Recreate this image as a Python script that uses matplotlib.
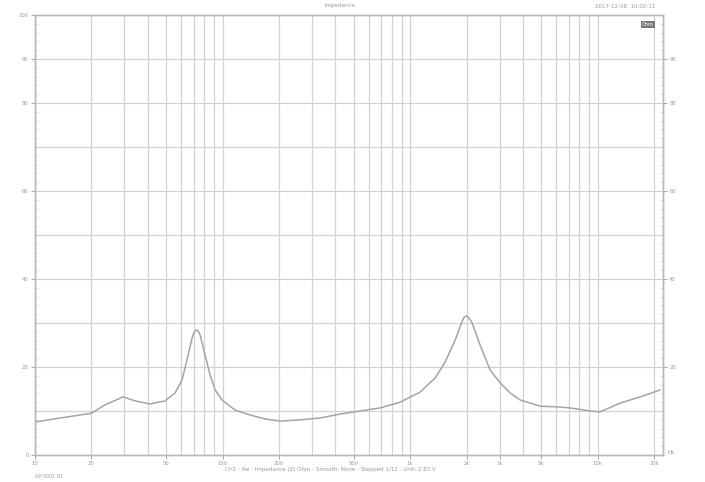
import numpy as np
import matplotlib
matplotlib.use("Agg")
import matplotlib.pyplot as plt
from matplotlib.ticker import FixedLocator, NullFormatter, MultipleLocator

# Data
freq_hz = [10.0, 13.6, 20, 23.6, 29.5, 34.1, 41.0, 49.4, 55.8, 60.8, 65.5, 68.8,
           70.5, 72.2, 74.0, 75.9, 80.7, 85.8, 91.2, 99.4, 116.6, 140, 168.5, 202.6, 259, 331,
           423, 541, 692, 884, 1131, 1359, 1537, 1738, 1894, 1940, 1990, 2040, 2142, 2362, 2671,
           3020, 3414, 3861, 4935, 6310, 7134, 9120, 10310, 13183, 16853, 21544]
impedance = [7.5, 8.4, 9.5, 11.4, 13.2, 12.3, 11.6, 12.3, 14.1, 17.0, 22.7, 26.6,
             27.9, 28.4, 28.2, 27.3, 22.7, 18.2, 14.8, 12.5, 10.2, 9.1, 8.2, 7.7, 8.0, 8.4,
             9.3, 10.0, 10.7, 12.0, 14.3, 17.5, 21.1, 26.1, 30.4, 31.3, 31.6, 31.4, 30.0, 25.0, 19.3,
             16.4, 14.1, 12.5, 11.1, 10.9, 10.7, 10.0, 9.8, 11.8, 13.2, 14.8]

x_tick_vals = [10, 20, 50, 100, 200, 500, 1000, 2000, 3000, 5000, 10000, 20000]
x_tick_labels = ["10", "20", "50", "100", "200", "500", "1k", "2k", "3k", "5k", "10k", "20k"]
y_tick_vals = [0, 20, 40, 60, 80, 90, 100]
y_tick_labels = ["0", "20", "40", "60", "80", "90", "100"]
y2_tick_vals = [20, 40, 60, 80, 90]
y2_tick_labels = ["20", "40", "60", "80", "90"]

W, H = 705, 482
fig = plt.figure(figsize=(W / 100, H / 100), dpi=100)
ax = fig.add_axes([35 / W, 1 - 455 / H, (663 - 35) / W, (455 - 15) / H])

grid_c = "#d2d2d2"
txt_c = "#9a9a9a"

ax.set_xscale("log")
ax.set_xlim(10, 22300)
ax.set_ylim(0, 100)

vg = [m * 10 ** d for d in range(1, 5) for m in range(1, 10) if m * 10 ** d <= 20000]
for v in vg:
    ax.axvline(v, color=grid_c, lw=0.9, zorder=1)
for h in range(10, 100, 10):
    ax.axhline(h, color=grid_c, lw=0.9, zorder=1)

ax.plot(freq_hz, impedance, color="#a4a4a4", lw=1.1, zorder=3)

ax.xaxis.set_major_locator(FixedLocator(x_tick_vals))
ax.set_xticklabels(x_tick_labels)
ax.xaxis.set_minor_formatter(NullFormatter())
ax.xaxis.set_minor_locator(FixedLocator([]))
ax.set_yticks(y_tick_vals)
ax.set_yticklabels(y_tick_labels)
ax.yaxis.set_minor_locator(MultipleLocator(2))
ax.tick_params(axis="both", which="major", labelsize=3.8, colors=txt_c, length=3,
               width=0.6, direction="out")
ax.tick_params(axis="y", which="minor", length=2, width=0.5, colors="#c8c8c8",
               direction="in", left=True, right=False)
ax.tick_params(axis="x", pad=1.0)
ax.tick_params(axis="y", pad=1.5)

ax2 = ax.twinx()
ax2.set_ylim(0, 100)
ax2.set_yticks(y2_tick_vals)
ax2.set_yticklabels(y2_tick_labels)
ax2.yaxis.set_minor_locator(MultipleLocator(2))
ax2.tick_params(axis="y", which="major", labelsize=3.8, colors=txt_c, length=3, width=0.6, pad=1.5)
ax2.tick_params(axis="y", which="minor", length=2, width=0.5, colors="#c8c8c8", direction="in")

for a in (ax, ax2):
    for s in a.spines.values():
        s.set_color("#b8b8b8")
        s.set_linewidth(1.0)

fig.text(340 / W, 1 - 6 / H, "Impedance", ha="center", va="center", fontsize=4, color=txt_c)
fig.text(655 / W, 1 - 6 / H, "2017-12-08  10:02:11", ha="right", va="center", fontsize=4, color=txt_c)
ax.text(0.985, 0.985, "Ohm", transform=ax.transAxes, ha="right", va="top", fontsize=3.5,
        color="white", bbox=dict(boxstyle="square,pad=0.2", fc="#777777", ec="none"))
fig.text(668 / W, 1 - 453 / H, "Hz", ha="left", va="center", fontsize=4, color=txt_c)
fig.text(330 / W, 1 - 469 / H, "CH1 - Ne : Impedance (Z) Ohm - Smooth: None - Stepped 1/12 - Unit: 2.83 V",
         ha="center", va="center", fontsize=4, color=txt_c)
fig.text(35 / W, 1 - 477 / H, "AP-0001 R1", ha="left", va="center", fontsize=3.5, color=txt_c)

fig.savefig("out.png", dpi=100, facecolor="white")
